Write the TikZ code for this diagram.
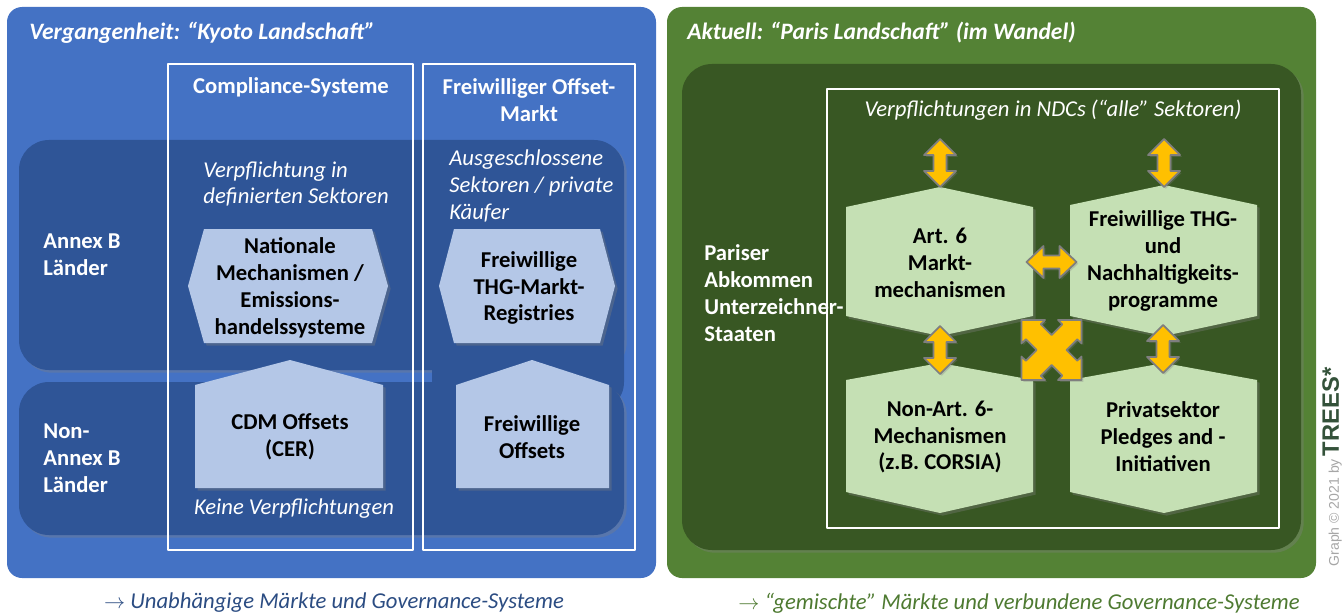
\documentclass[tikz,border=0pt]{standalone}
\usepackage{fontspec}
\setmainfont{Carlito}
\newfontfamily\creditfont{Liberation Sans}
\usepackage{tikz}
\usetikzlibrary{calc,shadows}

\definecolor{kyotoblue}{HTML}{4472C4}
\definecolor{rowblue}{HTML}{2F5597}
\definecolor{paleblue}{HTML}{B4C7E7}
\definecolor{parisgreen}{HTML}{548235}
\definecolor{deepgreen}{HTML}{385723}
\definecolor{palegreen}{HTML}{C5E0B4}
\definecolor{arrowgold}{HTML}{FFC000}
\definecolor{arrowrim}{HTML}{7F7F7F}
\definecolor{capblue}{HTML}{2B4C82}
\definecolor{capgreen}{HTML}{4E7A31}
\definecolor{creditgray}{HTML}{A6A6A6}
\definecolor{creditdark}{HTML}{34523A}

\newcommand{\lblsize}{\fontsize{12.9}{15.3}\selectfont}
\newcommand{\titlesize}{\fontsize{13.4}{16}\selectfont}

\begin{document}
\begin{tikzpicture}[x=0.02cm, y=-0.02cm, line join=round,
  softshadow/.style={drop shadow={shadow xshift=1.5pt, shadow yshift=-1.5pt, opacity=0.35}},
  title/.style={font=\titlesize\bfseries\itshape, text=white, anchor=west, inner sep=0pt},
  colhead/.style={font=\lblsize\bfseries, text=white, align=center},
  rowlbl/.style={font=\lblsize\bfseries, text=white, align=left, anchor=west, inner sep=0pt},
  note/.style={font=\lblsize\itshape, text=white, align=left, inner sep=0pt},
  boxtxt/.style={font=\lblsize\bfseries, text=black, align=center},
  colbox/.style={draw=white, line width=1pt},
  gold/.style={fill=arrowgold, draw=arrowrim, line width=1pt,
    drop shadow={shadow xshift=1pt, shadow yshift=-1pt, opacity=0.3}},
  updown/.pic={\path[gold] (0,-24) -- (16,-8) -- (6.5,-8) -- (6.5,8) -- (16,8) -- (0,24)
    -- (-16,8) -- (-6.5,8) -- (-6.5,-8) -- (-16,-8) -- cycle;},
  leftright/.pic={\path[gold] (-25,0) -- (-8,-16) -- (-8,-6.5) -- (8,-6.5) -- (8,-16) -- (25,0)
    -- (8,16) -- (8,6.5) -- (-8,6.5) -- (-8,16) -- cycle;},
  crossarrow/.pic={\path[gold] (0:15) \foreach \ang in {0,90,180,270}{
    -- ({\ang+22.66}:27.9) -- ({\ang+12.23}:30.7) -- ({\ang+45}:42.43)
    -- ({\ang+77.77}:30.7) -- ({\ang+67.34}:27.9) -- ({\ang+90}:15)} -- cycle;}]
\useasboundingbox (0,0) rectangle (1343,615);

% Kyoto side
\fill[kyotoblue, rounded corners=0.3cm] (7,7) rectangle (656,578);
\node[title] (kyototitle) at (29,33) {Vergangenheit: “Kyoto Landschaft”};
\fill[rowblue, rounded corners=0.6cm, softshadow] (19,140) rectangle (624,370);
\fill[rowblue, rounded corners=0.6cm] (432,300) rectangle (624,412);
\fill[rowblue, rounded corners=0.6cm, softshadow] (19,382) rectangle (624,535);
\draw[colbox] (168,64) rectangle (413,550);
\draw[colbox] (423,64) rectangle (635,550);
\node[colhead] (compl) at (291,87) {Compliance-Systeme};
\node[colhead] (offmarkt) at (529,100) {Freiwilliger Offset-\\Markt};
\node[rowlbl] (annexb) at (43,255) {Annex B\\Länder};
\node[rowlbl] (nonannexb) at (43,458) {Non-\\Annex B\\Länder};
\node[note, anchor=west] (sectors) at (203,184) {Verpflichtung in\\definierten Sektoren};
\node[note, anchor=west] (excluded) at (449,186) {Ausgeschlossene\\Sektoren / private\\Käufer};
\fill[paleblue, softshadow] (204,229) -- (372,229) -- (388,286) -- (372,343) -- (204,343) -- (188,286) -- cycle;
\node[boxtxt] (national) at (290,288) {Nationale\\Mechanismen /\\Emissions-\\handelssysteme};
\fill[paleblue, softshadow] (454,229) -- (600,229) -- (615,286) -- (600,343) -- (454,343) -- (439,286) -- cycle;
\node[boxtxt] (registries) at (529,288) {Freiwillige\\THG-Markt-\\Registries};
\fill[paleblue, softshadow] (290,360) -- (383,385) -- (383,488) -- (195,488) -- (195,385) -- cycle;
\node[boxtxt] (cdm) at (290,437) {CDM Offsets\\(CER)};
\fill[paleblue, softshadow] (532,360) -- (609,385) -- (609,488) -- (456,488) -- (456,385) -- cycle;
\node[boxtxt] (voloffsets) at (532,437) {Freiwillige\\Offsets};
\node[note, align=center] (nocommit) at (294,509) {Keine Verpflichtungen};
\node[font=\lblsize\itshape, text=capblue] (kyotocap) at (334,603)
  {$\rightarrow$ Unabhängige Märkte und Governance-Systeme};

% Paris side
\fill[parisgreen, rounded corners=0.3cm] (667,7) rectangle (1316,578);
\node[title] (paristitle) at (687,33) {Aktuell: “Paris Landschaft” (im Wandel)};
\fill[deepgreen, rounded corners=0.6cm, softshadow] (682,64) rectangle (1301,550);
\draw[colbox] (827,89) rectangle (1279,528);
\node[note, align=center] (ndc) at (1053,110) {Verpflichtungen in NDCs (“alle” Sektoren)};
\fill[palegreen, softshadow] (846,207) -- (940,187) -- (1033,207) -- (1033,316) -- (940,336) -- (846,316) -- cycle;
\fill[palegreen, softshadow] (1070,205) -- (1164,185) -- (1257,205) -- (1257,316) -- (1164,336) -- (1070,316) -- cycle;
\fill[palegreen, softshadow] (846,380) -- (940,363) -- (1033,380) -- (1033,492) -- (940,513) -- (846,492) -- cycle;
\fill[palegreen, softshadow] (1070,380) -- (1164,363) -- (1257,380) -- (1257,492) -- (1164,513) -- (1070,492) -- cycle;
\node[boxtxt] (art6) at (940,263) {Art. 6\\Markt-\\mechanismen};
\node[boxtxt] (volthg) at (1163,261) {Freiwillige THG-\\und\\Nachhaltigkeits-\\programme};
\node[boxtxt] (nonart6) at (940,437) {Non-Art. 6-\\Mechanismen\\(z.B. CORSIA)};
\node[boxtxt] (private) at (1163,437) {Privatsektor\\Pledges and -\\Initiativen};
\node[rowlbl] (signers) at (704,293) {Pariser\\Abkommen\\Unterzeichner-\\Staaten};
\pic at ($(art6)+(0,-100)$) {updown};
\pic at ($(volthg)+(1,-98)$) {updown};
\pic at ($(art6)!0.5!(nonart6)$) {updown};
\pic at ($(volthg)!0.5!(private)$) {updown};
\pic at ($(art6)!0.5!(volthg)$) {leftright};
\pic at ($(art6)!0.5!(private)$) {crossarrow};
\node[font=\lblsize\itshape, text=capgreen] (pariscap) at (1019,603)
  {$\rightarrow$ “gemischte” Märkte und verbundene Governance-Systeme};

% credit line
\node[rotate=90, font=\creditfont, inner sep=0pt] (credit) at (1332,467)
  {{\fontsize{8}{10}\selectfont\color{creditgray}Graph © 2021 by}\,%
   {\fontsize{13.5}{15}\selectfont\bfseries\color{creditdark}TREES*}};
\end{tikzpicture}
\end{document}
